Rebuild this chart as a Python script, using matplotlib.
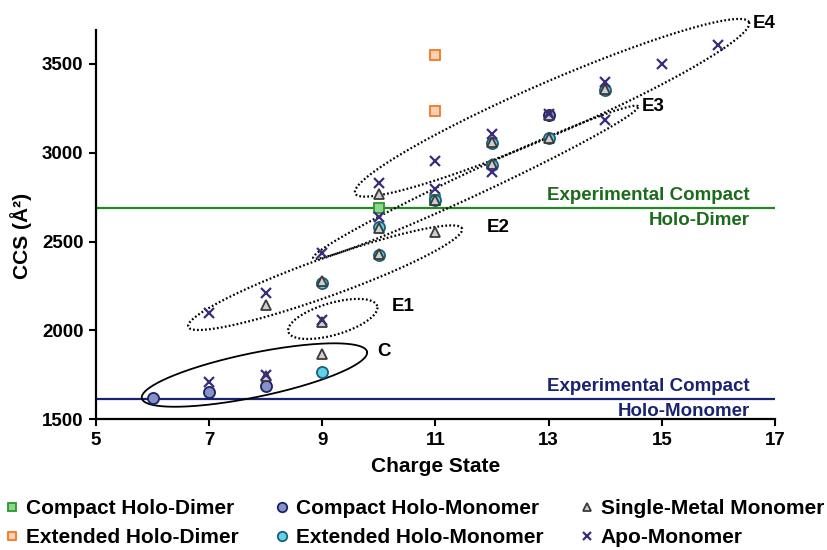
import matplotlib
matplotlib.use('Agg')
import matplotlib.pyplot as plt
import numpy as np

plt.rcParams['font.family'] = ['Liberation Sans', 'DejaVu Sans']
plt.rcParams['font.weight'] = 'bold'

# ---------------- data ----------------
compact_dimer_z = [10, 11]
compact_dimer_ccs = [2690, 2735]
extended_dimer_z = [11, 11]
extended_dimer_ccs = [3235, 3550]
compact_mono_z = [6, 7, 8, 13]
compact_mono_ccs = [1620, 1655, 1690, 3210]
extended_mono_z = [9, 9, 10, 10, 11, 12, 12, 13, 14]
extended_mono_ccs = [1765, 2268, 2422, 2580, 2735, 2930, 3052, 3082, 3352]
single_metal_z = [8, 9, 8, 9, 9, 10, 10, 10, 11, 11, 12, 12, 13, 13, 14]
single_metal_ccs = [1745, 1865, 2145, 2048, 2278, 2428, 2578, 2770, 2555, 2735, 2938, 3058, 3085, 3212, 3358]
apo_z = [7, 8, 7, 8, 9, 9, 10, 10, 11, 11, 12, 12, 13, 14, 14, 15, 16]
apo_ccs = [1710, 1752, 2100, 2210, 2060, 2438, 2638, 2828, 2798, 2955, 2890, 3105, 3215, 3185, 3398, 3500, 3603]

exp_dimer_ccs = 2690
exp_monomer_ccs = 1615

x_ticks = [5, 7, 9, 11, 13, 15, 17]
y_ticks = [1500, 2000, 2500, 3000, 3500]

# ellipse groups: label, left tip, right tip, half-width (px), style, label pos
groups = [
    ("C", (5.81, 1618), (9.79, 1880), 22, '-', (9.97, 1880)),
    ("E1", (8.40, 1992), (9.97, 2137), 16, ':', (10.22, 2133)),
    ("E2", (6.63, 2020), (11.47, 2573), 19, ':', (11.90, 2579)),
    ("E3", (8.84, 2407), (14.58, 3260), 12, ':', (14.64, 3260)),
    ("E4", (9.58, 2771), (16.54, 3734), 26, ':', (16.61, 3728)),
]

fig = plt.figure(figsize=(8.28, 5.5), dpi=100)
ax = fig.add_axes([96/828, 1-419.3/550, (775-96)/828, (419.3-30)/550])
ax.set_xlim(5, 17)
ax.set_ylim(1500, 3690)

for s in ['top', 'right']:
    ax.spines[s].set_visible(False)
for s in ['left', 'bottom']:
    ax.spines[s].set_linewidth(1.6)
    ax.spines[s].set_color('black')
ax.set_xticks(x_ticks)
ax.set_yticks(y_ticks)
ax.tick_params(axis='both', direction='out', length=5, width=1.5, labelsize=13.5, pad=4)
for lab in ax.get_xticklabels() + ax.get_yticklabels():
    lab.set_fontweight('bold')

ax.set_xlabel('Charge State', fontsize=15, fontweight='bold', labelpad=6)
ax.set_ylabel('CCS (Å²)', fontsize=15, fontweight='bold')
ax.yaxis.set_label_coords(-0.094, 0.47)

# experimental lines
ax.axhline(exp_dimer_ccs, color='#1f8a1f', lw=1.6, zorder=1)
ax.axhline(exp_monomer_ccs, color='#1a2370', lw=1.6, zorder=1)
ax.text(16.55, exp_dimer_ccs + 22, 'Experimental Compact', ha='right', va='bottom',
        color='#1c6b1c', fontsize=13.5, fontweight='bold')
ax.text(16.55, exp_dimer_ccs - 25, 'Holo-Dimer', ha='right', va='top',
        color='#1c6b1c', fontsize=13.5, fontweight='bold')
ax.text(16.55, exp_monomer_ccs + 22, 'Experimental Compact', ha='right', va='bottom',
        color='#1a2370', fontsize=13.5, fontweight='bold')
ax.text(16.55, exp_monomer_ccs - 25, 'Holo-Monomer', ha='right', va='top',
        color='#1a2370', fontsize=13.5, fontweight='bold')

# series
ms = 7.5
h1, = ax.plot(compact_dimer_z, compact_dimer_ccs, 's', ms=ms, mfc='#8fd48f', mec='#2a9a2a', mew=1.3,
              ls='none', label='Compact Holo-Dimer', zorder=3)
h4, = ax.plot(extended_dimer_z, extended_dimer_ccs, 's', ms=ms, mfc='#ffd0b5', mec='#f07a24', mew=1.3,
              ls='none', label='Extended Holo-Dimer', zorder=3)
h2, = ax.plot(compact_mono_z, compact_mono_ccs, 'o', ms=ms+0.5, mfc='#8592c4', mec='#1c2068', mew=1.3,
              ls='none', label='Compact Holo-Monomer', zorder=4)
h5, = ax.plot(extended_mono_z, extended_mono_ccs, 'o', ms=ms+0.5, mfc='#5fd3ea', mec='#1d5f78', mew=1.3,
              ls='none', label='Extended Holo-Monomer', zorder=4)
h3, = ax.plot(single_metal_z, single_metal_ccs, '^', ms=ms, mfc='#cfcfcf', mec='#3a3a3a', mew=1.3,
              ls='none', label='Single-Metal Monomer', zorder=5)
h6, = ax.plot(apo_z, apo_ccs, 'x', ms=ms, mec='#3b2d7a', mew=1.6,
              ls='none', label='Apo-Monomer', zorder=6)

# ellipses drawn in display space so they look like the original
fig.canvas.draw()
tr = ax.transData
inv = tr.inverted()
t = np.linspace(0, 2*np.pi, 400)
for name, L, R, hw, style, lpos in groups:
    p1 = tr.transform(L)
    p2 = tr.transform(R)
    c = (p1 + p2) / 2
    v = p2 - p1
    a = np.hypot(*v) / 2
    u = v / np.hypot(*v)
    n = np.array([-u[1], u[0]])
    pts = c + np.outer(a*np.cos(t), u) + np.outer(hw*np.sin(t), n)
    d = inv.transform(pts)
    if style == '-':
        ax.plot(d[:, 0], d[:, 1], color='black', lw=1.3, clip_on=False, zorder=2)
    else:
        ax.plot(d[:, 0], d[:, 1], color='black', lw=1.6, ls=(0, (0.8, 1.0)), clip_on=False, zorder=2)
    ax.text(lpos[0], lpos[1], name, ha='left', va='center', fontsize=13.5, fontweight='bold',
            clip_on=False)

leg = fig.legend(handles=[h1, h4, h2, h5, h3, h6], loc='upper left',
                 bbox_to_anchor=(6/828, 1-499/550),
                 ncol=3, frameon=False, handlelength=0.6, handletextpad=0.35,
                 columnspacing=1.8, markerscale=0.85, borderaxespad=0.0, borderpad=0.0,
                 labelspacing=0.5, prop={'weight': 'bold', 'size': 15})

fig.savefig('out.png', dpi=100)
